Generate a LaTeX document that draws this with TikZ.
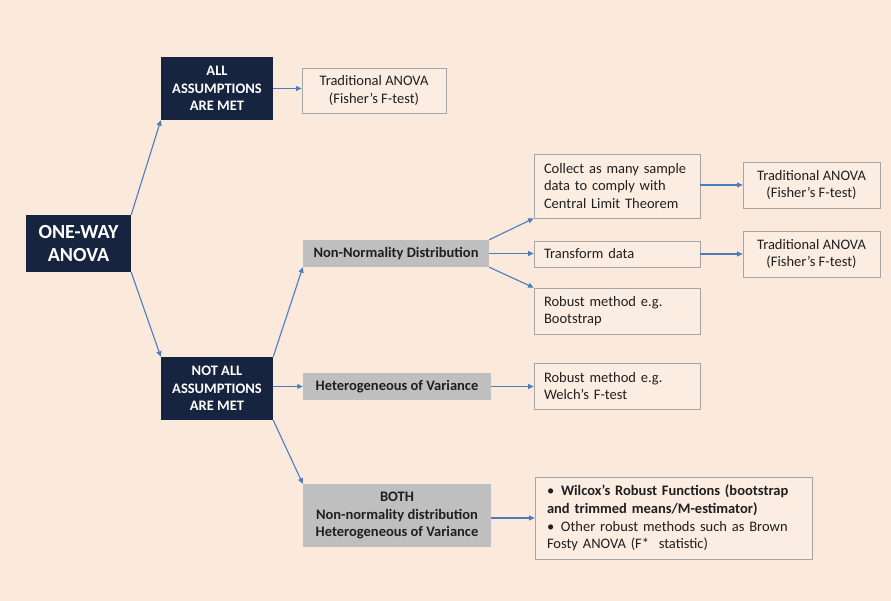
\documentclass[tikz,border=0pt]{standalone}
\usepackage{fontspec}
\setmainfont{Carlito}
\usetikzlibrary{arrows.meta}
\definecolor{bgpeach}{HTML}{FBE9DB}
\definecolor{darknavy}{HTML}{172440}
\definecolor{boxgray}{HTML}{BFBFBF}
\definecolor{lightfill}{HTML}{FCEDE2}
\definecolor{lightborder}{HTML}{A5A5A5}
\definecolor{txt}{HTML}{1F1F1F}
\definecolor{arrowblue}{HTML}{4A7CC0}
\tikzset{
  base/.style={rectangle, inner sep=0pt, font=\fontsize{14.5}{17.7}\selectfont, text=txt},
  darkbox/.style={base, fill=darknavy, text=white, font=\fontsize{14.5}{17.7}\selectfont\bfseries, align=center},
  graybox/.style={base, fill=boxgray, align=center, font=\fontsize{14.5}{17.7}\selectfont\bfseries},
  lightbox/.style={base, fill=lightfill, draw=lightborder, line width=0.8pt, align=center},
  leftbox/.style={base, fill=lightfill, draw=lightborder, line width=0.8pt, align=left, inner xsep=10pt},
  conn/.style={draw=arrowblue, line width=1.1pt, -{Triangle[length=5.5pt,width=5pt]}}
}
\begin{document}
\begin{tikzpicture}[x=1pt,y=-1pt]
\useasboundingbox (0,0) rectangle (891,601);
\fill[bgpeach] (0,0) rectangle (891,601);

\node[darkbox, minimum width=105pt, minimum height=57pt, font=\fontsize{20}{23.3}\selectfont\bfseries] (one) at (78.5,243.5) {ONE-WAY\\ANOVA};
\node[darkbox, minimum width=112pt, minimum height=63pt] (all) at (217,88.5) {ALL\\ASSUMPTIONS\\ARE MET};
\node[darkbox, minimum width=112pt, minimum height=63pt] (notall) at (217,388.5) {NOT ALL\\ASSUMPTIONS\\ARE MET};

\node[lightbox, minimum width=144pt, minimum height=45pt] (trad1) at (374,90.5) {Traditional ANOVA\\(Fisher’s F-test)};

\node[graybox, minimum width=186pt, minimum height=27pt] (nonnorm) at (396,253.5) {Non-Normality Distribution};
\node[graybox, minimum width=188pt, minimum height=27pt] (hetero) at (397,386.5) {Heterogeneous of Variance};
\node[graybox, minimum width=188pt, minimum height=63pt] (both) at (397,515.5) {BOTH\\Non-normality distribution\\Heterogeneous of Variance};

\node[leftbox, text width=146pt, minimum height=64pt] (collect) at (617,186) {Collect as many sample\\data to comply with\\Central Limit Theorem};
\node[leftbox, text width=146pt, minimum height=26pt] (transform) at (617,254) {Transform data};
\node[leftbox, text width=146pt, minimum height=46pt] (boot) at (617,311) {Robust method e.g.\\Bootstrap};
\node[leftbox, text width=146pt, minimum height=46pt] (welch) at (617,386) {Robust method e.g.\\Welch’s F-test};

\node[lightbox, minimum width=137pt, minimum height=46pt] (trad2) at (811.5,185) {Traditional ANOVA\\(Fisher’s F-test)};
\node[lightbox, minimum width=137pt, minimum height=46pt] (trad3) at (811.5,254) {Traditional ANOVA\\(Fisher’s F-test)};

\node[leftbox, inner xsep=12pt, text width=253pt, minimum height=82pt] (wilcox) at (673.5,518) {%
\hangindent=14pt\hangafter=1\makebox[14pt][l]{\textbullet}\textbf{Wilcox’s Robust Functions (bootstrap}\\\textbf{and trimmed means/M-estimator)}\par
\hangindent=14pt\hangafter=1\makebox[14pt][l]{\textbullet}Other robust methods such as Brown\\Fosty ANOVA (F*\ \ statistic)};

\draw[conn] (one.north east) -- (all.south west);
\draw[conn] (one.south east) -- (notall.north west);
\draw[conn] (all.east) -- (all.east -| trad1.west);
\draw[conn] (notall.north east) -- (nonnorm.south west);
\draw[conn] (notall.east |- hetero.west) -- (hetero.west);
\draw[conn] (notall.south east) -- (both.north west);
\draw[conn] (nonnorm.north east) -- (collect.south west);
\draw[conn] (nonnorm.east) -- (nonnorm.east -| transform.west);
\draw[conn] (nonnorm.south east) -- (boot.north west);
\draw[conn] (collect.east |- trad2.west) -- (trad2.west);
\draw[conn] (transform.east) -- (trad3.west);
\draw[conn] (hetero.east) -- (hetero.east -| welch.west);
\draw[conn] (both.east |- wilcox.west) -- (wilcox.west);
\end{tikzpicture}
\end{document}
